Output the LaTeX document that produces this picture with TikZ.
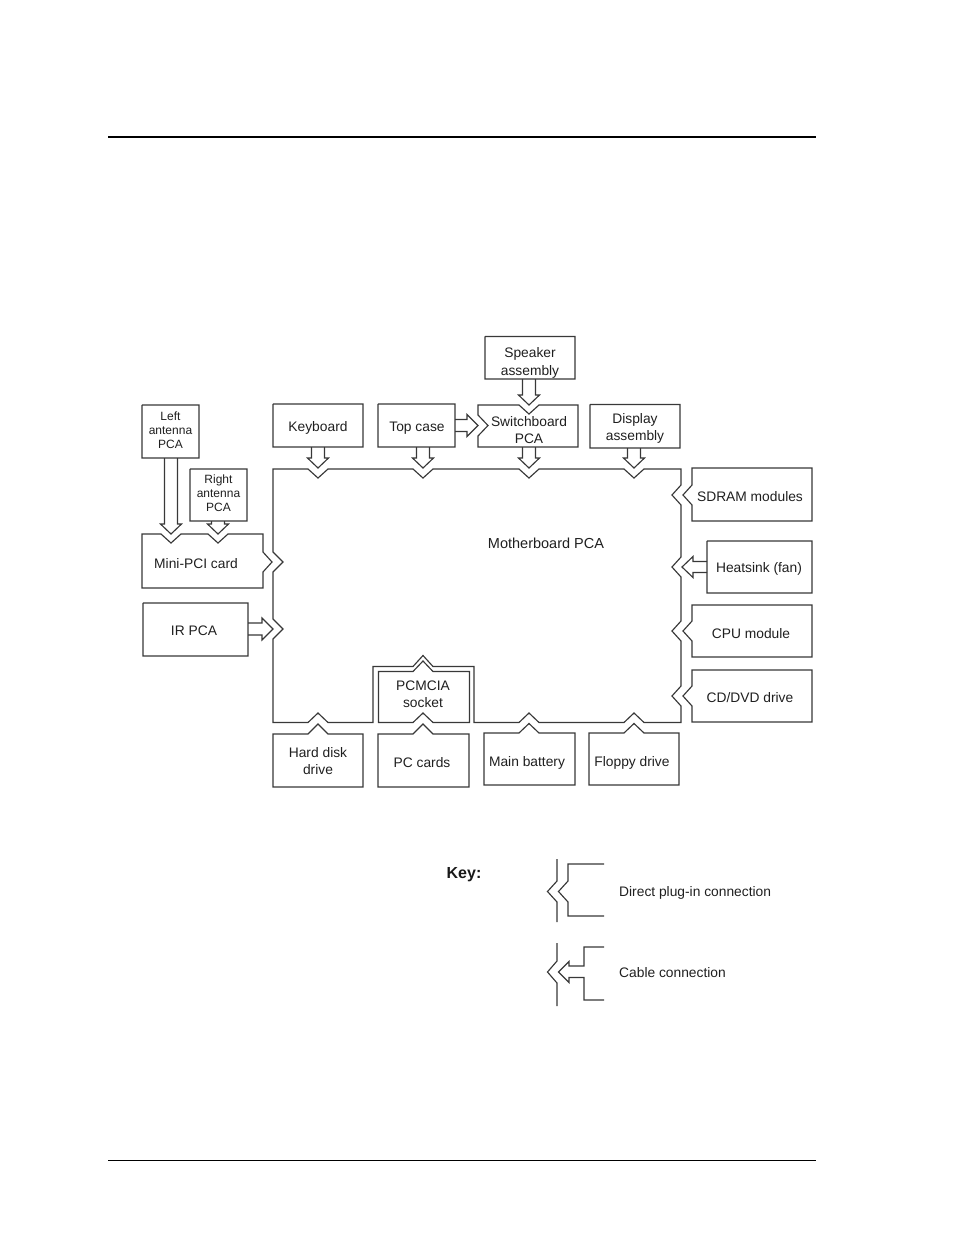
\documentclass[tikz,border=0pt]{standalone}
\usepackage{fontspec}
\setmainfont{Liberation Sans}
\newcommand\cabDown[3]{\draw[ln] (#1-6.5,#2) -- (#1-6.5,#3-10) -- (#1-10.5,#3-10) -- (#1,#3) -- (#1+10.5,#3-10) -- (#1+6.5,#3-10) -- (#1+6.5,#2);}
\newcommand\cabRight[3]{\draw[ln] (#1,#2-6) -- (#3-11,#2-6) -- (#3-11,#2-11) -- (#3,#2) -- (#3-11,#2+11) -- (#3-11,#2+6) -- (#1,#2+6);}
\newcommand\cabLeft[3]{\draw[ln] (#1,#2-5.5) -- (#3+11,#2-5.5) -- (#3+11,#2-10.5) -- (#3,#2) -- (#3+11,#2+10.5) -- (#3+11,#2+5.5) -- (#1,#2+5.5);}
\newcommand\boxPath[4]{\draw[ln] (#1+0.4,#2) -- (#3,#2) -- (#3,#4) -- (#1,#4) -- (#1,#2+0.4) -- cycle;}
\begin{document}
\begin{tikzpicture}[x=1pt,y=-1pt,
  ln/.style={draw=black!78,line width=1.15pt,line join=miter},
  lbl/.style={font=\fontsize{13.8}{17}\selectfont,align=center,text=black!88,inner sep=0pt},
  sml/.style={font=\fontsize{12}{14}\selectfont,align=center,text=black!88,inner sep=0pt}]
\useasboundingbox (0,0) rectangle (954,1235);
% header / footer rules
\draw[black,line width=2pt] (108,137) -- (816,137);
\draw[black,line width=1pt] (108,1160) -- (816,1160);

% motherboard outline
\draw[ln] (273,469) -- (308,469) -- (318,478) -- (328,469) -- (413,469) -- (423,478) -- (433,469)
  -- (519,469) -- (529,478) -- (539,469) -- (624,469) -- (634,478) -- (644,469) -- (681,469)
  -- (681,485) -- (672,495) -- (681,505) -- (681,557) -- (672,567) -- (681,577)
  -- (681,621) -- (672,631) -- (681,641) -- (681,686) -- (672,696) -- (681,706) -- (681,722.5)
  -- (644,722.5) -- (634,713) -- (624,722.5) -- (539,722.5) -- (529,713) -- (519,722.5) -- (474,722.5)
  -- (474,666.5) -- (433,666.5) -- (423,655.5) -- (413,666.5) -- (373,666.5) -- (373,722.5)
  -- (328,722.5) -- (318,713) -- (308,722.5) -- (273,722.5)
  -- (273,639) -- (283,629) -- (273,619) -- (273,572) -- (283,562) -- (273,552) -- cycle;
\node[lbl,font=\fontsize{14.5}{17}\selectfont] (mb) at (546,543) {Motherboard PCA};

% top row
\boxPath{485}{336.5}{575}{379}
\node[lbl,font=\fontsize{13.8}{18}\selectfont] (spk) at (530,363) {Speaker\\assembly};
\cabDown{529}{379}{405}
\draw[ln] (478,405) -- (519,405) -- (529,414) -- (539,405) -- (578,405) -- (578,447) -- (478,447)
  -- (478,436) -- (488,425.5) -- (478,415) -- cycle;
\node[lbl] (sw) at (529,430) {Switchboard\\PCA};
\cabDown{529}{447}{468}

\boxPath{273}{404}{363}{447}
\node[lbl] (kbd) at (318,428) {Keyboard};
\cabDown{318}{447}{468}

\boxPath{378}{404}{455}{447}
\node[lbl] (tc) at (417,428) {Top case};
\cabDown{423}{447}{468}
\cabRight{455}{425.5}{478}

\boxPath{590}{404.5}{680}{448}
\node[lbl] (disp) at (635,428) {Display\\assembly};
\cabDown{634}{448}{468}

% right side
\draw[ln] (692,468) -- (812,468) -- (812,521) -- (692,521) -- (692,505) -- (683,495) -- (692,485) -- cycle;
\node[lbl] (sdram) at (750,497) {SDRAM modules};
\boxPath{707}{541}{812}{593}
\node[lbl] (heat) at (759,569) {Heatsink (fan)};
\cabLeft{707}{567}{682}
\draw[ln] (692,605) -- (812,605) -- (812,657) -- (692,657) -- (692,641) -- (683,631) -- (692,621) -- cycle;
\node[lbl] (cpu) at (751,634) {CPU module};
\draw[ln] (692,670) -- (812,670) -- (812,722) -- (692,722) -- (692,706) -- (683,696) -- (692,686) -- cycle;
\node[lbl] (cd) at (750,698) {CD/DVD drive};

% PCMCIA socket
\draw[ln] (378.5,722.5) -- (378.5,671.5) -- (413,671.5) -- (423,661) -- (433,671.5) -- (469.5,671.5)
  -- (469.5,722.5) -- (433,722.5) -- (423,713) -- (413,722.5) -- cycle;
\node[lbl] (pcm) at (423,694) {PCMCIA\\socket};

% bottom row
\draw[ln] (273,734) -- (308,734) -- (318,724) -- (328,734) -- (363,734) -- (363,787) -- (273,787) -- cycle;
\node[lbl] (hdd) at (318,761) {Hard disk\\drive};
\draw[ln] (378,734) -- (413,734) -- (423,724) -- (433,734) -- (469,734) -- (469,787) -- (378,787) -- cycle;
\node[lbl] (pcc) at (422,763) {PC cards};
\draw[ln] (484,733) -- (519,733) -- (529,723.5) -- (539,733) -- (575,733) -- (575,785) -- (484,785) -- cycle;
\node[lbl] (bat) at (527,763) {Main battery};
\draw[ln] (589,733) -- (624,733) -- (634,723.5) -- (644,733) -- (679,733) -- (679,785) -- (589,785) -- cycle;
\node[lbl] (fdd) at (632,763) {Floppy drive};

% left side
\boxPath{142}{405}{199}{458}
\node[sml] (lant) at (170.5,430) {Left\\antenna\\PCA};
\cabDown{171}{458}{534}
\boxPath{190}{469}{247}{521}
\node[sml] (rant) at (218.5,493) {Right\\antenna\\PCA};
\cabDown{218}{521}{534}
\draw[ln] (142,534) -- (161,534) -- (171,543) -- (181,534) -- (208,534) -- (218,543) -- (228,534) -- (263,534)
  -- (263,552) -- (272,562) -- (263,572) -- (263,588) -- (142,588) -- cycle;
\node[lbl] (mpci) at (196,564) {Mini-PCI card};
\boxPath{143}{603}{248}{656}
\node[lbl] (ir) at (194,631) {IR PCA};
\cabRight{248}{629}{273}

% key
\node[font=\fontsize{16}{18}\selectfont\bfseries,text=black!90,inner sep=0pt] (key) at (464,875) {Key:};
\draw[ln] (557,859) -- (557,881) -- (547.5,891.5) -- (557,902) -- (557,922);
\draw[ln] (604,864) -- (568,864) -- (568,881) -- (558.5,891.5) -- (568,902) -- (568,916) -- (604,916);
\node[lbl,anchor=west] (kdir) at (619,893) {Direct plug-in connection};
\draw[ln] (557,943) -- (557,961) -- (547.5,972) -- (557,983) -- (557,1006);
\draw[ln] (604,947) -- (584,947) -- (584,966) -- (569,966) -- (569,961.5) -- (558.5,972) -- (569,982.5)
  -- (569,977.5) -- (584,977.5) -- (584,1000) -- (604,1000);
\node[lbl,anchor=west] (kcab) at (619,973) {Cable connection};
\end{tikzpicture}
\end{document}
